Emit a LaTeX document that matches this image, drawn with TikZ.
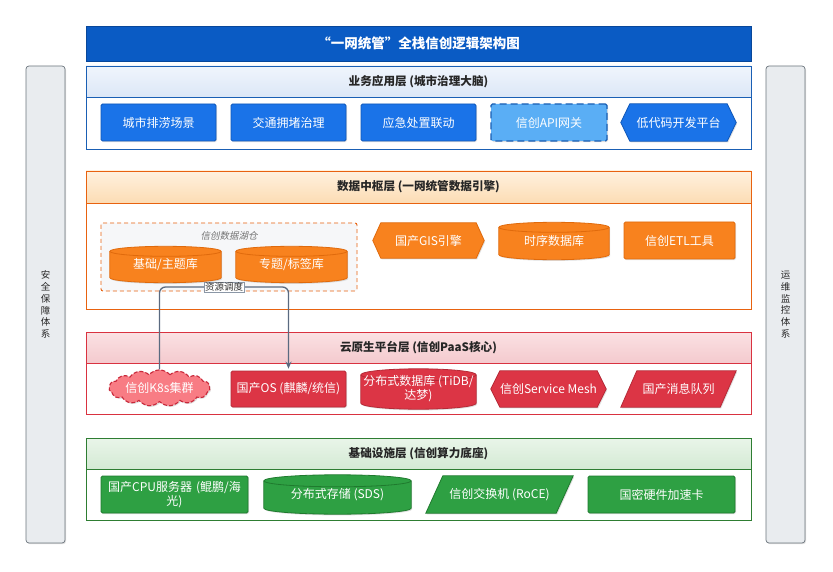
\documentclass[tikz,border=0pt]{standalone}
\usepackage{fontspec}
\setmainfont{Noto Sans CJK SC}
\newfontfamily\slcjk{Noto Sans CJK SC}[FakeSlant=0.2]
\usetikzlibrary{shapes.symbols,shadows,calc,arrows.meta}
\pgfdeclarelayer{bg}\pgfdeclarelayer{mid}\pgfsetlayers{bg,mid,main}
\definecolor{titleblue}{HTML}{0A5BC4}
\definecolor{titleline}{HTML}{08479A}
\definecolor{appborder}{HTML}{1A5FB4}
\definecolor{apptop}{HTML}{F0F5FC}
\definecolor{appbot}{HTML}{DCE7F7}
\definecolor{appnode}{HTML}{1A73E8}
\definecolor{appnodeline}{HTML}{0F57B8}
\definecolor{apigw}{HTML}{5AAEF5}
\definecolor{databorder}{HTML}{E8620F}
\definecolor{datatop}{HTML}{FFF1DE}
\definecolor{databot}{HTML}{FCDCB4}
\definecolor{datanode}{HTML}{F8821E}
\definecolor{datanodeline}{HTML}{E06A0C}
\definecolor{lakefill}{HTML}{F6F7F9}
\definecolor{cloudborder}{HTML}{D93240}
\definecolor{cloudtop}{HTML}{FBE1E3}
\definecolor{cloudbot}{HTML}{F4CACE}
\definecolor{cloudnode}{HTML}{DC3545}
\definecolor{cloudnodeline}{HTML}{B52A37}
\definecolor{k8sfill}{HTML}{F87C84}
\definecolor{k8sline}{HTML}{C8283A}
\definecolor{infraborder}{HTML}{2E7D32}
\definecolor{infratop}{HTML}{E9F5E9}
\definecolor{infrabot}{HTML}{D4EAD4}
\definecolor{infranode}{HTML}{2EA043}
\definecolor{infranodeline}{HTML}{1F7A2E}
\definecolor{sidefill}{HTML}{E9ECEF}
\definecolor{sideline}{HTML}{6C757D}
\definecolor{connline}{HTML}{5A6A80}
\tikzset{
  shade/.style={drop shadow={opacity=0.25,shadow xshift=1pt,shadow yshift=-1.2pt}},
  lbl/.style={text=white,font=\fontsize{12}{14}\selectfont,align=center,inner sep=0pt},
  rectbox/.style={lbl,rectangle,rounded corners=1.5pt,line width=0.8pt,shade},
  ghost/.style={lbl,rectangle,draw=none},
  headtxt/.style={font=\bfseries\fontsize{11.6}{14}\selectfont,text=black!85,inner sep=0pt},
  sidebar/.style={fill=sidefill,draw=sideline,line width=0.7pt,rounded corners=3pt,shade},
  sidetxt/.style={font=\fontsize{9.5}{11.7}\selectfont,align=center,inner sep=0pt,text=black!85},
  conn/.style={draw=connline,line width=1.3pt,rounded corners=6pt,-{Stealth[length=7pt,width=6pt]}},
  tag/.style={fill=white,draw=connline!70,line width=0.4pt,inner sep=0.8pt,font=\fontsize{9.5}{10}\selectfont,text=black!80}
}
\newcommand\hexshape[4]{%
  \begin{pgfonlayer}{mid}
  \path[fill=#2,draw=#3,line width=0.8pt,shade] (#1.west) -- ($(#1.north west)+(#4,0)$) -- ($(#1.north east)+(-#4,0)$) -- (#1.east) -- ($(#1.south east)+(-#4,0)$) -- ($(#1.south west)+(#4,0)$) -- cycle;
  \end{pgfonlayer}}
\newcommand\parashape[4]{%
  \begin{pgfonlayer}{mid}
  \path[fill=#2,draw=#3,line width=0.8pt,shade] (#1.south west) -- ($(#1.north west)+(#4,0)$) -- (#1.north east) -- ($(#1.south east)+(-#4,0)$) -- cycle;
  \end{pgfonlayer}}
\newcommand\cylshape[4]{%
  \begin{pgfonlayer}{mid}
  \path let \p1=(#1.north west), \p2=(#1.south east), \n1={(\x2-\x1)/2} in
    [fill=#2,draw=#3,line width=0.8pt,shade] (\x1,\y1-#4) -- (\x1,\y2+#4)
    arc[start angle=180,end angle=360,x radius=\n1,y radius=#4] -- (\x2,\y1-#4)
    arc[start angle=0,end angle=180,x radius=\n1,y radius=#4] -- cycle;
  \path let \p1=(#1.north west), \p2=(#1.south east), \n1={(\x2-\x1)/2} in
    [draw=#3,line width=0.8pt] (\x2,\y1-#4)
    arc[start angle=0,end angle=-180,x radius=\n1,y radius=#4];
  \end{pgfonlayer}}
\begin{document}
\begin{tikzpicture}[x=1pt,y=1pt]
\useasboundingbox (0,0) rectangle (833,-572);

% layer frames and background
\begin{pgfonlayer}{bg}
\fill[white] (0,0) rectangle (833,-572);
\filldraw[fill=white,draw=appborder,line width=0.9pt,shade] (86,-66) rectangle (751,-149);
\path[top color=apptop,bottom color=appbot,draw=appborder,line width=0.9pt] (86,-66) rectangle (751,-97);
\filldraw[fill=white,draw=databorder,line width=0.9pt,shade] (86,-171) rectangle (751,-309);
\path[top color=datatop,bottom color=databot,draw=databorder,line width=0.9pt] (86,-171) rectangle (751,-203);
\filldraw[fill=white,draw=cloudborder,line width=0.9pt,shade] (86,-332) rectangle (751,-414);
\path[top color=cloudtop,bottom color=cloudbot,draw=cloudborder,line width=0.9pt] (86,-332) rectangle (751,-363);
\filldraw[fill=white,draw=infraborder,line width=0.9pt,shade] (86,-438) rectangle (751,-520);
\path[top color=infratop,bottom color=infrabot,draw=infraborder,line width=0.9pt] (86,-438) rectangle (751,-469);
\filldraw[fill=lakefill,draw=databorder,line width=0.9pt,dash pattern=on 4pt off 3pt,rounded corners=2pt] (101,-223) rectangle (357,-291);
\end{pgfonlayer}

% side bars
\node[sidebar,sidetxt,minimum width=39,minimum height=477] (sec) at (45.5,-304.5)
  {安\\全\\保\\障\\体\\系};
\node[sidebar,sidetxt,minimum width=39,minimum height=477] (ops) at (785.5,-304.5)
  {运\\维\\监\\控\\体\\系};

% title
\node[fill=titleblue,draw=titleline,line width=0.6pt,minimum width=665,minimum height=35,
  inner sep=0pt,text=white,font=\bfseries\fontsize{13.5}{16}\selectfont,shade] (title) at (418.5,-43.5)
  {“一网统管”全栈信创逻辑架构图};

\node[headtxt] (happ) at (418.5,-81.5) {业务应用层 (城市治理大脑)};
\node[headtxt] (hdata) at (418.5,-187) {数据中枢层 (一网统管数据引擎)};
\node[headtxt] (hcloud) at (418.5,-347.5) {云原生平台层 (信创PaaS核心)};
\node[headtxt] (hinfra) at (418.5,-453.5) {基础设施层 (信创算力底座)};

% application layer
\node[rectbox,fill=appnode,draw=appnodeline,minimum width=115,minimum height=37] (a1) at (158.5,-122.5) {城市排涝场景};
\node[rectbox,fill=appnode,draw=appnodeline,minimum width=115,minimum height=37] (a2) at (288.5,-122.5) {交通拥堵治理};
\node[rectbox,fill=appnode,draw=appnodeline,minimum width=115,minimum height=37] (a3) at (418.5,-122.5) {应急处置联动};
\node[rectbox,fill=apigw,draw=appborder,line width=1.2pt,dash pattern=on 7pt off 4pt,minimum width=116,minimum height=37] (a4) at (549,-122.5) {信创API网关};
\node[ghost,minimum width=115,minimum height=37] (a5) at (678.5,-122.5) {低代码开发平台};
\hexshape{a5}{appnode}{appnodeline}{9}

% data layer
\node[font=\slcjk\fontsize{9.5}{11}\selectfont,text=black!55,inner sep=0pt] (lake) at (229,-236) {信创数据湖仓};
\node[ghost,minimum width=111,minimum height=36] (d1) at (165.5,-264.5) {\raisebox{-2pt}{基础/主题库}};
\cylshape{d1}{datanode}{datanodeline}{5pt}
\node[ghost,minimum width=111,minimum height=36] (d2) at (291.5,-264.5) {\raisebox{-2pt}{专题/标签库}};
\cylshape{d2}{datanode}{datanodeline}{5pt}
\node[ghost,minimum width=111,minimum height=35] (d3) at (428.5,-240.5) {国产GIS引擎};
\hexshape{d3}{datanode}{datanodeline}{8}
\node[ghost,minimum width=110,minimum height=37] (d4) at (554,-241) {\raisebox{-2pt}{时序数据库}};
\cylshape{d4}{datanode}{datanodeline}{5pt}
\node[rectbox,fill=datanode,draw=datanodeline,minimum width=111,minimum height=37] (d5) at (679.5,-240.5) {信创ETL工具};

% cloud native layer
\node[lbl,cloud,cloud puffs=15,cloud puff arc=100,aspect=3.5,fill=k8sfill,draw=k8sline,line width=1.1pt,dash pattern=on 4pt off 2pt,minimum width=101,minimum height=28,shade] (c1) at (159.5,-388) {信创K8s集群};
\node[rectbox,fill=cloudnode,draw=cloudnodeline,minimum width=115,minimum height=36] (c2) at (288.5,-389) {国产OS (麒麟/统信)};
\node[ghost,minimum width=115,minimum height=40] (c3) at (418.5,-389) {\raisebox{-2pt}{\parbox{114pt}{\centering 分布式数据库 (TiDB/\\达梦)}}};
\cylshape{c3}{cloudnode}{cloudnodeline}{6pt}
\node[ghost,minimum width=115,minimum height=36] (c4) at (548.5,-389) {信创Service Mesh};
\hexshape{c4}{cloudnode}{cloudnodeline}{9}
\node[ghost,minimum width=115,minimum height=36] (c5) at (678.5,-389) {国产消息队列};
\parashape{c5}{cloudnode}{cloudnodeline}{16}

% infrastructure layer
\node[rectbox,fill=infranode,draw=infranodeline,minimum width=147,minimum height=37,text width=145pt,font=\fontsize{12}{13.5}\selectfont] (i1) at (174.5,-494.5) {国产CPU服务器 (鲲鹏/海\\光)};
\node[ghost,minimum width=147,minimum height=39] (i2) at (337.5,-494.5) {\raisebox{-2pt}{分布式存储 (SDS)}};
\cylshape{i2}{infranode}{infranodeline}{6pt}
\node[ghost,minimum width=147,minimum height=37] (i3) at (499.5,-494.5) {信创交换机 (RoCE)};
\parashape{i3}{infranode}{infranodeline}{17}
\node[rectbox,fill=infranode,draw=infranodeline,minimum width=147,minimum height=37] (i4) at (661.5,-494.5) {国密硬件加速卡};

% connector
\coordinate (bend) at (0,-287);
\draw[conn,shorten >=2pt] (c1.north) -- (c1.north |- bend) -- (c2.north |- bend) -- (c2.north);
\node[tag] (res) at ($(c1.north |- bend)!0.5!(c2.north |- bend)$) {资源调度};
\end{tikzpicture}
\end{document}
